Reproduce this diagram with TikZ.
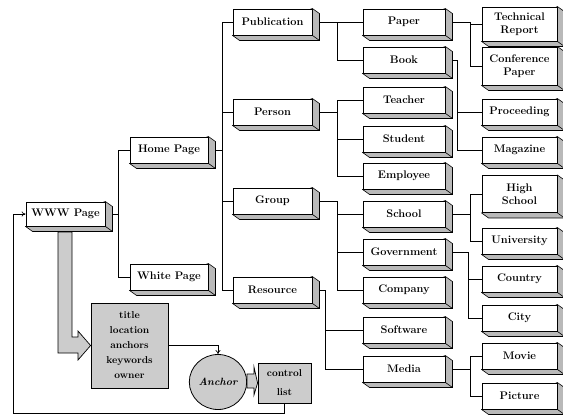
\documentclass[tikz,border=0pt]{standalone}
\usepackage{fontspec}
\usetikzlibrary{arrows.meta,calc,shapes.geometric}
\pgfdeclarelayer{edges}
\pgfdeclarelayer{shadows}
\pgfsetlayers{edges,shadows,main}
\tikzset{
  box/.style={draw, fill=white, line width=0.9pt, inner sep=1pt, minimum height=26pt,
    align=center, font=\fontsize{11}{12.5}\selectfont\bfseries},
  cola/.style={box, minimum width=79pt, minimum height=24pt},
  colb/.style={box, minimum width=78pt},
  colc/.style={box, minimum width=79pt},
  cold/.style={box, minimum width=82pt},
  cole/.style={box, minimum width=75pt},
  graybox/.style={draw, fill=gray!40, line width=0.8pt, inner sep=1pt, align=center},
  conn/.style={draw, line width=0.7pt},
  shadowface/.style={fill=gray!55, draw, line width=0.6pt},
  fatarrow/.style={fill=gray!40, draw, line width=0.7pt, line join=miter},
  tip/.style={-{To[length=4pt,width=5pt]}}
}
\begin{document}
\begin{tikzpicture}[x=1pt,y=-1pt]
\useasboundingbox (0,0) rectangle (563,416);

% column 1 and 2
\node[cola] (www)   at (65.5,214) {WWW Page};
\node[colb] (home)  at (169,150)  {Home Page};
\node[colb] (white) at (169,277)  {White Page};
% column 3
\node[colc] (pub)    at (272.5,22)  {Publication};
\node[colc] (person) at (272.5,112) {Person};
\node[colc] (group)  at (272.5,201) {Group};
\node[colc] (res)    at (272.5,290) {Resource};
% column 4
\node[cold] (paper)    at (404,22)  {Paper};
\node[cold] (book)     at (404,60)  {Book};
\node[cold] (teacher)  at (404,100) {Teacher};
\node[cold] (student)  at (404,139) {Student};
\node[cold] (employee) at (404,176) {Employee};
\node[cold] (school)   at (404,214) {School};
\node[cold] (gov)      at (404,252) {Government};
\node[cold] (company)  at (404,290) {Company};
\node[cold] (soft)     at (404,330) {Software};
\node[cold] (media)    at (404,369) {Media};
% column 5
\node[cole, minimum height=34pt] (tech) at (519.5,24) {Technical\\Report};
\node[cole, minimum height=38pt] (conf) at (519.5,66) {Conference\\Paper};
\node[cole] (proc)    at (519.5,112) {Proceeding};
\node[cole] (mag)     at (519.5,150) {Magazine};
\node[cole, minimum height=37pt] (high) at (519.5,194) {High\\School};
\node[cole] (univ)    at (519.5,241) {University};
\node[cole] (country) at (519.5,279) {Country};
\node[cole] (city)    at (519.5,318) {City};
\node[cole] (movie)   at (519.5,356) {Movie};
\node[cole] (picture) at (519.5,396) {Picture};

% lower part
\node[graybox, minimum width=77pt, minimum height=85pt,
      font=\fontsize{10}{15}\selectfont\bfseries] (attr) at (129.5,345.5)
      {title\\location\\anchors\\keywords\\owner};
\node[graybox, ellipse, minimum width=57pt, minimum height=55pt,
      font=\fontsize{10.5}{12}\selectfont\bfseries\itshape] (anch) at (218,382) {Anchor};
\node[graybox, minimum width=53pt, minimum height=40pt,
      font=\fontsize{10}{19}\selectfont\bfseries] (ctrl) at (284.5,383) {control\\list};

% branch coordinates
\coordinate (ta) at (118,0);
\coordinate (tb) at (222,0);
\coordinate (tc) at (337,0);
\coordinate (td) at (325,0);
\coordinate (te) at (470,0);
\coordinate (tf) at (457,0);
\coordinate (tg) at (468,0);
\coordinate (fb) at (13,413);

\begin{pgfonlayer}{edges}
  % www -> home/white
  \path[conn] (www.east) -- (www.east -| ta);
  \path[conn] (home.west) -- (home.west -| ta) |- (white.west);
  % home -> column 3
  \path[conn] (home.east) -- (home.east -| tb);
  \path[conn] (pub.west) -- (pub.west -| tb) |- (res.west);
  \path[conn] (person.west) -- (person.west -| tb);
  \path[conn] (group.west) -- (group.west -| tb);
  % publication
  \path[conn] (pub.east) -- (paper.west);
  \path[conn] (pub.east -| tc) |- (book.west);
  % person
  \path[conn] (person.east) -- (person.east -| tc);
  \path[conn] (teacher.west) -- (teacher.west -| tc) |- (employee.west);
  \path[conn] (student.west) -- (student.west -| tc);
  % group
  \path[conn] (group.east) -- (group.east -| tc) |- (company.west);
  \path[conn] (school.west) -- (school.west -| tc);
  \path[conn] (gov.west) -- (gov.west -| tc);
  % resource
  \path[conn] (res.east) -- (res.east -| td) |- (media.west);
  \path[conn] (soft.west) -- (soft.west -| td);
  % paper
  \path[conn] (paper.east) -- (paper.east -| te) |- (conf.west);
  \path[conn] (tech.west) -- (tech.west -| te);
  % book
  \path[conn] (book.east) -- (book.east -| tf) |- (mag.west);
  \path[conn] (proc.west) -- (proc.west -| tf);
  % school
  \path[conn] (school.east) -- (school.east -| te);
  \path[conn] (high.west) -- (high.west -| te) |- (univ.west);
  % government
  \path[conn] (gov.east) -- (gov.east -| tg) |- (city.west);
  \path[conn] (country.west) -- (country.west -| tg);
  % media
  \path[conn] (media.east) -- (media.east -| te);
  \path[conn] (movie.west) -- (movie.west -| te) |- (picture.west);
\end{pgfonlayer}

\begin{pgfonlayer}{shadows}
  \foreach \n in {www,home,white,pub,person,group,res,paper,book,teacher,student,
                  employee,school,gov,company,soft,media,tech,conf,proc,mag,high,
                  univ,country,city,movie,picture}{
    \path[shadowface] (\n.north east) -- ++(7,5) -- ($(\n.south east)+(7,5)$)
      -- ($(\n.south west)+(7,5)$) -- (\n.south west) -- cycle;
    \draw[line width=0.6pt] (\n.south east) -- ++(7,5);
  }
\end{pgfonlayer}

% fat arrow www -> attributes
\path[fatarrow] (58,232) -- (58,353) -- (78,353) -- (78,360) -- (attr.west)
  -- (78,331) -- (78,337) -- (72,337) -- (72,232) -- cycle;
% fat arrow anchor -> control list
\path[fatarrow] (anch.east |- 0,374) -- (254,374) -- (254,367) -- (ctrl.west)
  -- (254,395) -- (254,388) -- (anch.east |- 0,388) -- cycle;

% attributes -> anchor
\draw[conn, tip] (attr.east) -| (anch.north);
% feedback loop
\draw[conn, tip] (ctrl.south) |- (fb) |- (www.west);
\end{tikzpicture}
\end{document}
